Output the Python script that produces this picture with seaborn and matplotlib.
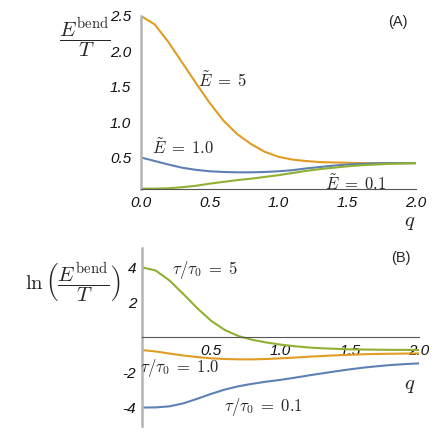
import matplotlib
matplotlib.use("Agg")
import matplotlib.pyplot as plt
import pandas as pd
import seaborn as sns
from matplotlib.ticker import MultipleLocator, FormatStrFormatter

# q grid
q = [0.0, 0.1, 0.2, 0.3, 0.4, 0.5, 0.6, 0.7, 0.8, 0.9, 1.0,
     1.1, 1.2, 1.3, 1.4, 1.5, 1.6, 1.7, 1.8, 1.9, 2.0]

# (A) E^bend / T
e_5 = [2.50, 2.38, 2.13, 1.84, 1.55, 1.27, 1.02, 0.83, 0.69, 0.58, 0.51,
       0.47, 0.45, 0.435, 0.43, 0.425, 0.42, 0.42, 0.42, 0.42, 0.42]
e_10 = [0.50, 0.45, 0.40, 0.355, 0.325, 0.305, 0.295, 0.29, 0.29, 0.295, 0.305,
        0.32, 0.345, 0.365, 0.385, 0.40, 0.41, 0.415, 0.42, 0.42, 0.42]
e_01 = [0.06, 0.06, 0.065, 0.08, 0.10, 0.13, 0.155, 0.18, 0.20, 0.225, 0.25,
        0.28, 0.31, 0.335, 0.355, 0.375, 0.39, 0.40, 0.41, 0.415, 0.42]

# (B) ln(E^bend / T)
tau_5 = [4.0, 3.82, 3.25, 2.48, 1.67, 0.95, 0.42, 0.07, -0.14, -0.29, -0.41,
         -0.5, -0.57, -0.62, -0.65, -0.68, -0.69, -0.70, -0.71, -0.71, -0.72]
tau_10 = [-0.72, -0.8, -0.92, -1.03, -1.12, -1.19, -1.23, -1.25, -1.25, -1.23, -1.19,
          -1.15, -1.1, -1.06, -1.02, -0.99, -0.96, -0.94, -0.93, -0.92, -0.91]
tau_01 = [-4.0, -3.99, -3.93, -3.76, -3.5, -3.22, -2.97, -2.78, -2.64, -2.52, -2.42,
          -2.3, -2.17, -2.05, -1.93, -1.82, -1.72, -1.64, -1.57, -1.52, -1.48]

blue = '#5e81b5'
orange = '#e19c24'
green = '#8fb032'

sns.set_style("white")
plt.rcParams['font.family'] = ['Liberation Sans', 'DejaVu Sans']
plt.rcParams['mathtext.fontset'] = 'cm'
plt.rcParams['axes.unicode_minus'] = False

df_a = pd.DataFrame({
    'q': q * 3,
    'val': e_5 + e_10 + e_01,
    'curve': ['5'] * len(q) + ['1.0'] * len(q) + ['0.1'] * len(q),
})
df_b = pd.DataFrame({
    'q': q * 3,
    'val': tau_5 + tau_10 + tau_01,
    'curve': ['5'] * len(q) + ['1.0'] * len(q) + ['0.1'] * len(q),
})

fig = plt.figure(figsize=(4.36, 4.37), dpi=100)
ax1 = fig.add_axes([0.3234, 0.5668, 0.6307, 0.3966])
ax2 = fig.add_axes([0.325, 0.0252, 0.6365, 0.4073])

sns.lineplot(data=df_a, x='q', y='val', hue='curve', ax=ax1, legend=False,
             palette={'5': orange, '1.0': blue, '0.1': green}, linewidth=1.5)
sns.lineplot(data=df_b, x='q', y='val', hue='curve', ax=ax2, legend=False,
             palette={'5': green, '1.0': orange, '0.1': blue}, linewidth=1.5)

# panel A axes
ax1.set_xlim(0, 2.0)
ax1.set_ylim(0.05, 2.5)
ax1.set_xticks([0.0, 0.5, 1.0, 1.5, 2.0])
ax1.set_yticks([0.5, 1.0, 1.5, 2.0, 2.5])
ax1.xaxis.set_minor_locator(MultipleLocator(0.1))
ax1.yaxis.set_minor_locator(MultipleLocator(0.1))
ax1.xaxis.set_major_formatter(FormatStrFormatter('%.1f'))
ax1.yaxis.set_major_formatter(FormatStrFormatter('%.1f'))

# panel B axes
ax2.set_xlim(0, 2.0)
ax2.set_ylim(-5.05, 5.1)
ax2.set_xticks([0.5, 1.0, 1.5, 2.0])
ax2.set_yticks([-4, -2, 2, 4])
ax2.xaxis.set_minor_locator(MultipleLocator(0.1))
ax2.yaxis.set_minor_locator(MultipleLocator(0.5))
ax2.xaxis.set_major_formatter(FormatStrFormatter('%.1f'))
ax2.yaxis.set_major_formatter(FormatStrFormatter('%d'))
ax2.spines['bottom'].set_position(('data', 0))

for ax in [ax1, ax2]:
    ax.set_xlabel('')
    ax.set_ylabel('')
    ax.patch.set_alpha(0)
    for s in ['top', 'right']:
        ax.spines[s].set_visible(False)
    ax.spines['left'].set_color('#b4b4b4')
    ax.spines['left'].set_linewidth(1.8)
    ax.spines['bottom'].set_color('#555555')
    ax.spines['bottom'].set_linewidth(0.8)
    ax.tick_params(which='major', direction='in', length=5, width=0.7,
                   color='#666666', labelsize=11, labelcolor='#111111')
    ax.tick_params(which='minor', direction='in', length=2.5, width=0.6,
                   color='#888888')
    ax.tick_params(axis='x', pad=5)
    for lab in ax.get_xticklabels() + ax.get_yticklabels():
        lab.set_style('italic')
ax1.tick_params(axis='y', pad=7)
ax2.tick_params(axis='y', pad=4)

# annotations
ax1.text(1.87, 2.42, '(A)', fontsize=10.5, ha='center', va='center')
ax1.text(0.59, 1.59, r'$\tilde{E}\;=\;5$', fontsize=12, ha='center', va='center')
ax1.text(0.305, 0.645, r'$\tilde{E}\;=\;1.0$', fontsize=12, ha='center', va='center')
ax1.text(1.56, 0.135, r'$\tilde{E}\;=\;0.1$', fontsize=12, ha='center', va='center')

ax2.text(1.865, 4.53, '(B)', fontsize=10.5, ha='center', va='center')
ax2.text(0.457, 3.85, r'$\tau/\tau_0\;=\;5$', fontsize=12, ha='center', va='center')
ax2.text(0.277, -1.75, r'$\tau/\tau_0\;=\;1.0$', fontsize=12, ha='center', va='center')
ax2.text(0.876, -3.98, r'$\tau/\tau_0\;=\;0.1$', fontsize=12, ha='center', va='center')

fig.text(0.195, 0.913, r'$\dfrac{E^{\rm bend}}{T}$', fontsize=15, ha='center', va='center')
fig.text(0.166, 0.352, r'$\ln\left(\dfrac{E^{\rm bend}}{T}\right)$', fontsize=15,
         ha='center', va='center')
fig.text(0.940, 0.49, r'$q$', fontsize=15, ha='center', va='center')
fig.text(0.940, 0.118, r'$q$', fontsize=15, ha='center', va='center')

fig.savefig('out.png', dpi=100)
